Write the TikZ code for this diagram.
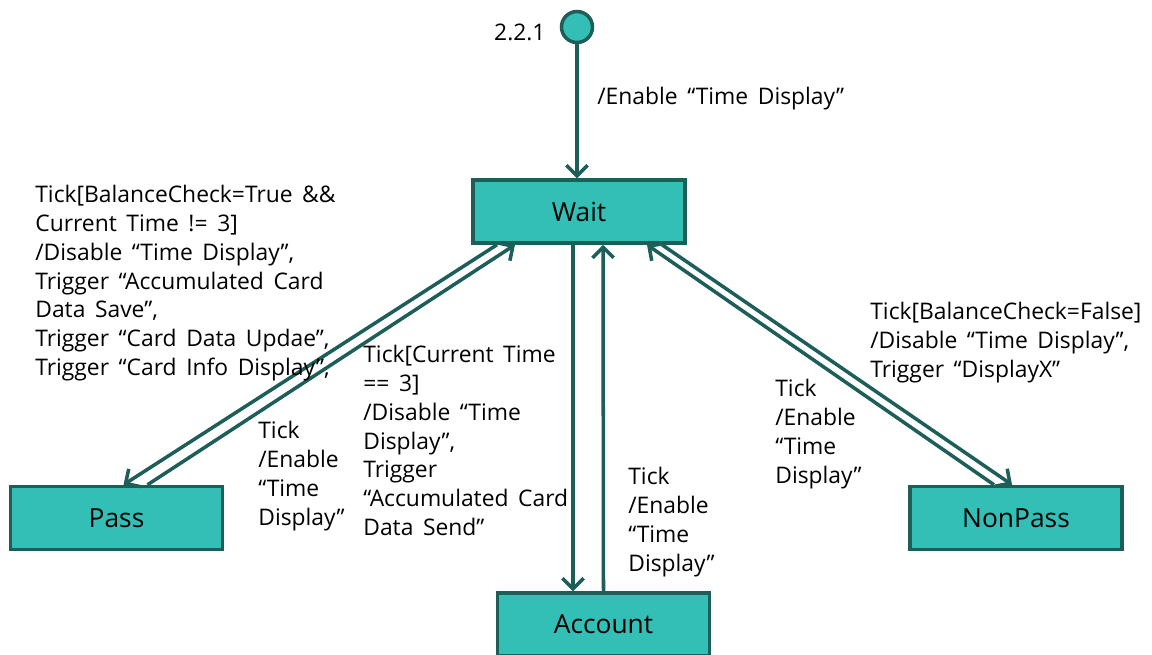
\documentclass[tikz,border=0pt]{standalone}
\usepackage{fontspec}
\setmainfont{Open Sans}
\usetikzlibrary{arrows.meta,calc}
\definecolor{boxfill}{RGB}{52,191,182}
\definecolor{edge}{RGB}{30,94,88}
\newcommand{\notefont}{\fontsize{13}{16.4}\selectfont\spaceskip=0.42em\relax}

\begin{document}
\begin{tikzpicture}[x=0.02cm, y=-0.02cm,
		state/.style={draw=edge, line width=2pt, fill=boxfill, minimum width=4.24cm, minimum height=1.26cm, font=\fontsize{15}{17}\selectfont},
		trans/.style={draw=edge, line width=2pt, -{Straight Barb[length=6pt,width=12pt]}},
		note/.style={anchor=north west, inner sep=0pt, align=left, font=\notefont}]
	\useasboundingbox (0,0) rectangle (1152,654);
	\node[circle, draw=edge, line width=2pt, fill=boxfill, minimum size=0.62cm, inner sep=0pt,
		label={[label distance=0.16cm, yshift=-0.1cm, font=\fontsize{13}{15}\selectfont]left:2.2.1}] (init) at (577,27) {};
	\node[state] (wait) at (579,211.5) {Wait};
	\node[state] (pass) at (116.5,518) {Pass};
	\node[state] (account) at (603.5,624.5) {Account};
	\node[state] (nonpass) at (1016,518) {NonPass};
	% transitions
	\draw[trans] (init) -- (init |- wait.north);
	\draw[trans] ($(wait.south)+(-82,0)$) -- ($(pass.north)+(7,0)$);
	\draw[trans] ($(pass.north)+(31,0)$) -- ($(wait.south)+(-64,0)$);
	\draw[trans] ($(wait.south)+(-6,0)$) -- ($(account.north)+(-30.5,0)$);
	\draw[trans] (account.north) -- ($(wait.south)+(24,0)$);
	\draw[trans] ($(nonpass.north)+(-22,0)$) -- ($(wait.south)+(68,0)$);
	\draw[trans] ($(wait.south)+(83,0)$) -- ($(nonpass.north)+(-4,0)$);
	% labels
	\node[note] (enable) at (597,87) {/Enable “Time Display”};
	\node[note] (toPass) at (35,185) {Tick[BalanceCheck=True \&\&\\Current Time != 3]\\/Disable “Time Display”,\\Trigger “Accumulated Card\\Data Save”,\\Trigger “Card Data Updae”,\\Trigger “Card Info Display”,};
	\node[note] (fromPass) at (258,421) {Tick\\/Enable\\“Time\\Display”};
	\node[note] (toAccount) at (363,345) {Tick[Current Time\\== 3]\\/Disable “Time\\Display”,\\Trigger\\“Accumulated Card\\Data Send”};
	\node[note] (fromAccount) at (628,467) {Tick\\/Enable\\“Time\\Display”};
	\node[note] (fromNonPass) at (775,379) {Tick\\/Enable\\“Time\\Display”};
	\node[note] (toNonPass) at (870,302) {Tick[BalanceCheck=False]\\/Disable “Time Display”,\\Trigger “DisplayX”};
\end{tikzpicture}
\end{document}
